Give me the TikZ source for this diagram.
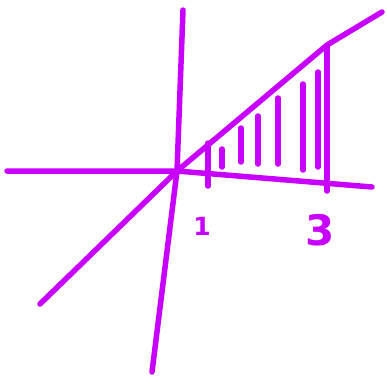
\documentclass[tikz,border=0pt]{standalone}
\usepackage{tikz}
\usetikzlibrary{positioning}
\usepackage{fontspec}
\setsansfont{DejaVu Sans}
\definecolor{pen}{HTML}{C800FF}

\begin{document}
\begin{tikzpicture}[x=1pt,y=-1pt,sketch/.style={pen,line width=5.5pt,line cap=round,line join=round}]
  \useasboundingbox (0,0) rectangle (387,378);
  % Axes
  \coordinate (o) at (177,171);
  \draw[sketch] (7,171) -- (120,171) -- (o) -- (372,187);
  \draw[sketch] (183,10) -- (o) -- (152,372);
  % Diagonal line
  \draw[sketch] (40,304) -- (o) -- (327,45) -- (382,12);
  % Bounds at 1 and 3
  \draw[sketch] (208,143) -- (208,186);
  \draw[sketch] (327,46) -- (327,191);
  % Hatching
  \foreach \x/\a/\b in {222/149/167, 241/128/162, 258/116/164, 278/98/164, 303/84/170, 318/72/167}
    \draw[sketch] (\x,\a) -- (\x,\b);
  % Labels
  \node[pen,font=\sffamily\bfseries\fontsize{25}{25}\selectfont] (one) at (202,226) {1};
  \node[pen,font=\sffamily\bfseries\fontsize{42}{42}\selectfont] (three) at (320,230) {3};
\end{tikzpicture}
\end{document}
